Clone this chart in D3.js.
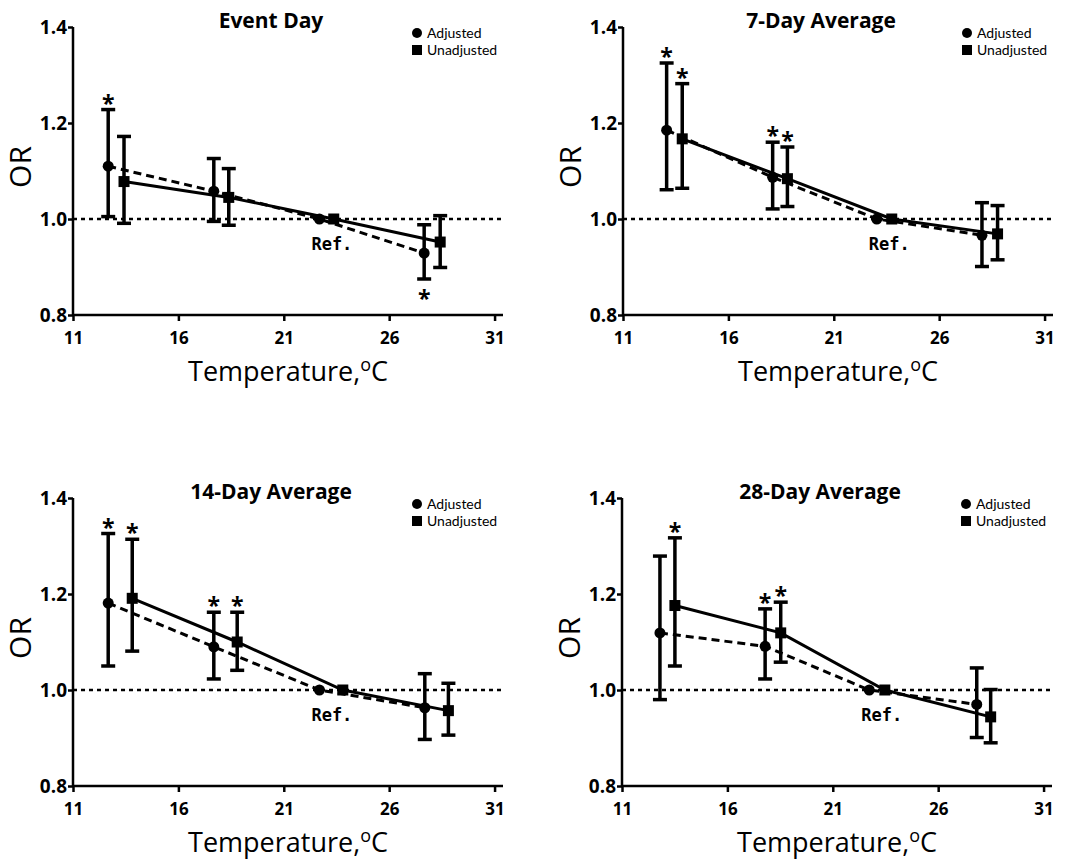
<!DOCTYPE html>
<html>
<head>
<meta charset="utf-8">
<script src="https://cdn.jsdelivr.net/npm/d3@7"></script>
<style>
  body { margin: 0; background: #fff; }
  text { font-family: "Open Sans", Lato, sans-serif; fill: #000; }
</style>
</head>
<body>
<div class="chart"></div>
<script>
// Panel titles and axis ticks
var panelTitles = ["Event Day", "7-Day Average", "14-Day Average", "28-Day Average"];
var xTicks = [11, 16, 21, 26, 31];
var yTicks = [0.8, 1.0, 1.2, 1.4];
var seriesNames = ["Adjusted", "Unadjusted"];

// Adjusted ORs (one row per panel); sig: 1 = star above, -1 = star below
var adjTemp = [[12.67, 17.68, 22.69, 27.66], [13.07, 18.10, 23.04, 28.03], [12.67, 17.68, 22.69, 27.69], [12.80, 17.79, 22.73, 27.83]];
var adjOR   = [[1.110, 1.058, 1.0, 0.929], [1.185, 1.087, 1.0, 0.966], [1.181, 1.090, 1.0, 0.963], [1.119, 1.091, 1.0, 0.970]];
var adjLow  = [[1.005, 0.995, null, 0.875], [1.061, 1.021, null, 0.901], [1.050, 1.023, null, 0.897], [0.980, 1.023, null, 0.901]];
var adjHigh = [[1.228, 1.126, null, 0.988], [1.325, 1.160, null, 1.034], [1.326, 1.162, null, 1.034], [1.279, 1.169, null, 1.046]];
var adjSig  = [[1, 0, 0, -1], [1, 1, 0, 0], [1, 1, 0, 0], [0, 1, 0, 0]];

// Unadjusted ORs
var unadjTemp = [[13.42, 18.39, 23.37, 28.42], [13.81, 18.80, 23.75, 28.77], [13.81, 18.79, 23.80, 28.81], [13.51, 18.53, 23.47, 28.49]];
var unadjOR   = [[1.078, 1.045, 1.0, 0.952], [1.167, 1.084, 1.0, 0.969], [1.191, 1.100, 1.0, 0.957], [1.176, 1.119, 1.0, 0.944]];
var unadjLow  = [[0.991, 0.987, null, 0.899], [1.064, 1.026, null, 0.915], [1.081, 1.041, null, 0.906], [1.050, 1.058, null, 0.890]];
var unadjHigh = [[1.172, 1.105, null, 1.007], [1.282, 1.150, null, 1.028], [1.314, 1.162, null, 1.014], [1.317, 1.183, null, 1.001]];
var unadjSig  = [[0, 0, 0, 0], [1, 1, 0, 0], [1, 1, 0, 0], [1, 1, 0, 0]];

//Canvas and panel placement
var width = 1074, height = 861;
var panelLeft = [73, 623, 73, 622],
    panelTop = [27, 27, 498, 498];
var plotW = 430, plotH = 288;

var svg = d3.select(".chart").append("svg")
            .attr("width", width)
            .attr("height", height);

panelTitles.forEach(function(title, p) {
  var g = svg.append("g").attr("transform", "translate(" + panelLeft[p] + "," + panelTop[p] + ")");

  var x = d3.scaleLinear().domain([11, 31.4]).range([0, plotW]);
  var y = d3.scaleLinear().domain([0.8, 1.4]).range([plotH, 0]);

  //Axes
  var xAxis = g.append("g").attr("transform", "translate(0," + plotH + ")")
               .call(d3.axisBottom(x).tickValues(xTicks).tickSize(6).tickPadding(11).tickFormat(d3.format("d")));
  var yAxis = g.append("g")
               .call(d3.axisLeft(y).tickValues(yTicks).tickSize(5).tickPadding(1).tickFormat(d3.format(".1f")));
  [xAxis, yAxis].forEach(function(a) {
    a.select(".domain").attr("stroke", "#000").attr("stroke-width", 2.5);
    a.selectAll(".tick line").attr("stroke", "#000").attr("stroke-width", 2.5);
  });
  xAxis.select(".domain").attr("d", "M0,0H" + plotW);
  yAxis.select(".domain").attr("d", "M0," + plotH + "V0");
  xAxis.selectAll(".tick text").style("font-size", "17px").style("font-weight", "bold").attr("fill", "#000");
  yAxis.selectAll(".tick text").style("font-size", "19px").style("font-weight", "bold").attr("fill", "#000");

  //Reference line at OR = 1
  g.append("line")
   .attr("x1", 0).attr("x2", plotW)
   .attr("y1", y(1)).attr("y2", y(1))
   .attr("stroke", "#000").attr("stroke-width", 2.5)
   .attr("stroke-dasharray", "4,4");

  var adj = adjTemp[p].map(function(t, i) {
    return {t: t, or: adjOR[p][i], lo: adjLow[p][i], hi: adjHigh[p][i], sig: adjSig[p][i]};
  });
  var unadj = unadjTemp[p].map(function(t, i) {
    return {t: t, or: unadjOR[p][i], lo: unadjLow[p][i], hi: unadjHigh[p][i], sig: unadjSig[p][i]};
  });

  var line = d3.line().x(function(d) { return x(d.t); }).y(function(d) { return y(d.or); });

  g.append("path").datum(adj)
   .attr("d", line).attr("fill", "none")
   .attr("stroke", "#000").attr("stroke-width", 3)
   .attr("stroke-dasharray", "8,5");
  g.append("path").datum(unadj)
   .attr("d", line).attr("fill", "none")
   .attr("stroke", "#000").attr("stroke-width", 3);

  [adj, unadj].forEach(function(series, s) {
    var bars = g.selectAll(".bar" + s)
                .data(series.filter(function(d) { return d.lo != null; }))
                .enter().append("g");
    bars.append("line")
        .attr("x1", function(d) { return x(d.t); }).attr("x2", function(d) { return x(d.t); })
        .attr("y1", function(d) { return y(d.lo); }).attr("y2", function(d) { return y(d.hi); })
        .attr("stroke", "#000").attr("stroke-width", 3.5);
    ["lo", "hi"].forEach(function(k) {
      bars.append("line")
          .attr("x1", function(d) { return x(d.t) - 7; }).attr("x2", function(d) { return x(d.t) + 7; })
          .attr("y1", function(d) { return y(d[k]); }).attr("y2", function(d) { return y(d[k]); })
          .attr("stroke", "#000").attr("stroke-width", 3.5);
    });

    //Markers: circle for adjusted, square for unadjusted
    if (s == 0) {
      g.selectAll(".dot" + s).data(series).enter().append("circle")
       .attr("cx", function(d) { return x(d.t); })
       .attr("cy", function(d) { return y(d.or); })
       .attr("r", 5.5).attr("fill", "#000");
    } else {
      g.selectAll(".sq" + s).data(series).enter().append("rect")
       .attr("x", function(d) { return x(d.t) - 5.5; })
       .attr("y", function(d) { return y(d.or) - 5.5; })
       .attr("width", 11).attr("height", 11).attr("fill", "#000");
    }

    //Significance stars
    g.selectAll(".star" + s).data(series.filter(function(d) { return d.sig != 0; }))
     .enter().append("text")
     .attr("x", function(d) { return x(d.t); })
     .attr("y", function(d) { return d.sig > 0 ? y(d.hi) + 2 : y(d.lo) + 28; })
     .attr("text-anchor", "middle")
     .style("font-size", "23px").style("font-weight", "bold")
     .text("*");
  });

  //Ref. label under the reference points
  g.append("text")
   .attr("x", x(adj[2].t) - 8)
   .attr("y", y(1) + 31)
   .style("font-family", "'DejaVu Sans Mono', monospace")
   .style("font-size", "17px").style("font-weight", "bold")
   .text("Ref.");

  //Title
  g.append("text")
   .attr("x", 198).attr("y", 1)
   .attr("text-anchor", "middle")
   .style("font-size", "21px").style("font-weight", "bold")
   .text(title);

  //Legend
  seriesNames.forEach(function(name, i) {
    var ly = 6 + i * 17;
    if (i == 0) {
      g.append("circle").attr("cx", 344).attr("cy", ly).attr("r", 5).attr("fill", "#000");
    } else {
      g.append("rect").attr("x", 339).attr("y", ly - 5).attr("width", 10).attr("height", 10).attr("fill", "#000");
    }
    g.append("text")
     .attr("x", 354).attr("y", ly)
     .attr("dy", "0.35em")
     .style("font-family", "Lato, sans-serif")
     .style("font-size", "14px")
     .text(name);
  });

  //Axis titles
  var xt = g.append("text")
            .attr("x", plotW / 2).attr("y", plotH + 66)
            .attr("text-anchor", "middle")
            .style("font-size", "27px");
  xt.append("tspan").text("Temperature,");
  xt.append("tspan").attr("dy", -10).style("font-size", "18px").text("o");
  xt.append("tspan").attr("dy", 10).text("C");

  g.append("text")
   .attr("transform", "translate(-42," + (plotH / 2 - 4) + ") rotate(-90)")
   .attr("text-anchor", "middle")
   .style("font-size", "30px")
   .text("OR");
});
</script>
</body>
</html>
